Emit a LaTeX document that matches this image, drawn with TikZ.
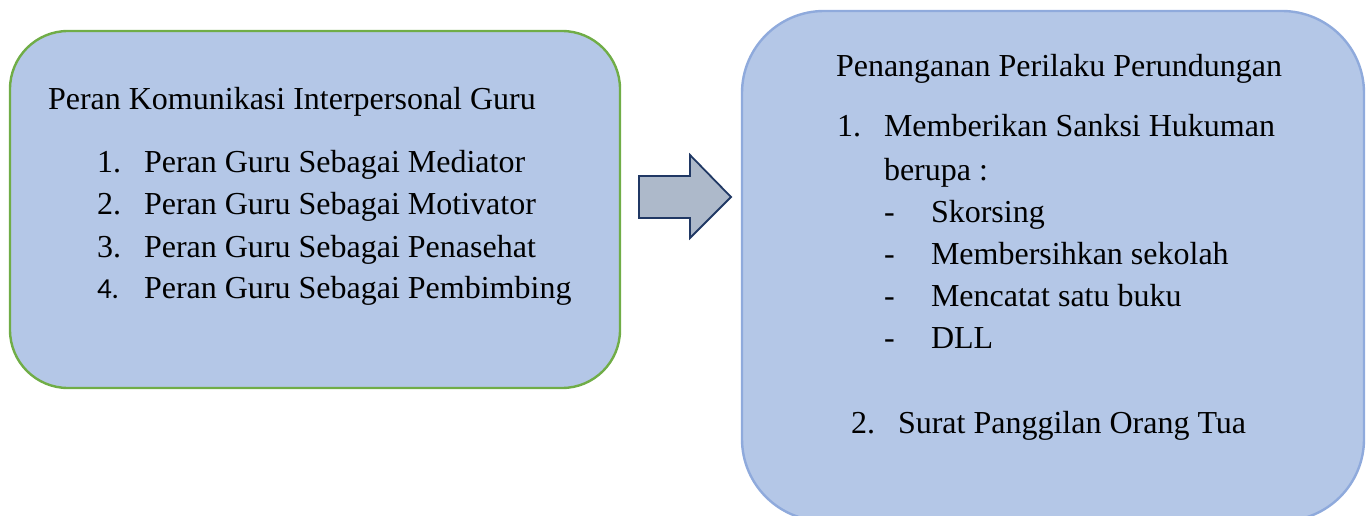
\documentclass[tikz,border=0pt]{standalone}
\usepackage{fontspec}
\setmainfont{Liberation Serif}
\newfontfamily\calib{Carlito}
\definecolor{boxfill}{HTML}{B4C7E7}
\definecolor{greenline}{HTML}{70AD47}
\definecolor{blueline}{HTML}{8FAADC}
\definecolor{arrowfill}{HTML}{ADB9CA}
\definecolor{arrowline}{HTML}{203864}
\tikzset{
  panel/.style={draw, fill=boxfill, line width=2.4pt, inner sep=0pt},
  txt/.style={anchor=base west, inner sep=0pt, outer sep=0pt, font=\fontsize{32}{38}\selectfont}
}
\begin{document}
\begin{tikzpicture}[x=1pt, y=-1pt]
\useasboundingbox (0,0) rectangle (1368,516);
\clip (0,0) rectangle (1368,516);
% left panel
\node[panel, draw=greenline, rounded corners=58pt, minimum width=610pt, minimum height=357pt] (left) at (315,209.5) {};
% right panel
\node[panel, draw=blueline, rounded corners=82pt, minimum width=622pt, minimum height=510pt] (right) at (1053,266) {};
% block arrow
\draw[fill=arrowfill, draw=arrowline, line width=1.8pt, line join=miter]
  (639,176) -- (690,176) -- (690,155) -- (731,197) -- (690,238) -- (690,218) -- (639,218) -- cycle;
% left text
\node[txt] (lt) at (48,110) {Peran Komunikasi Interpersonal Guru};
\node[txt] (ln1) at (97,172) {1.};
\node[txt] (li1) at (144,172) {Peran Guru Sebagai Mediator};
\node[txt] (ln2) at (97,214) {2.};
\node[txt] (li2) at (144,214) {Peran Guru Sebagai Motivator};
\node[txt] (ln3) at (97,257) {3.};
\node[txt] (li3) at (144,257) {Peran Guru Sebagai Penasehat};
\node[txt, font=\calib\fontsize{29}{36}\selectfont] (ln4) at (97,298) {4.};
\node[txt] (li4) at (144,298) {Peran Guru Sebagai Pembimbing};
% right text
\node[txt] (rt) at (836,77) {Penanganan Perilaku Perundungan};
\node[txt] (rn1) at (837,137) {1.};
\node[txt] (ri1) at (884,137) {Memberikan Sanksi Hukuman};
\node[txt] (ri1b) at (884,180) {berupa :};
\node[txt] (rd1) at (884,222) {-};
\node[txt] (rs1) at (931,222) {Skorsing};
\node[txt] (rd2) at (884,264) {-};
\node[txt] (rs2) at (931,264) {Membersihkan sekolah};
\node[txt] (rd3) at (884,306) {-};
\node[txt] (rs3) at (931,306) {Mencatat satu buku};
\node[txt] (rd4) at (884,348) {-};
\node[txt] (rs4) at (931,348) {DLL};
\node[txt] (rn2) at (851,433) {2.};
\node[txt] (ri2) at (898,433) {Surat Panggilan Orang Tua};
\end{tikzpicture}
\end{document}
